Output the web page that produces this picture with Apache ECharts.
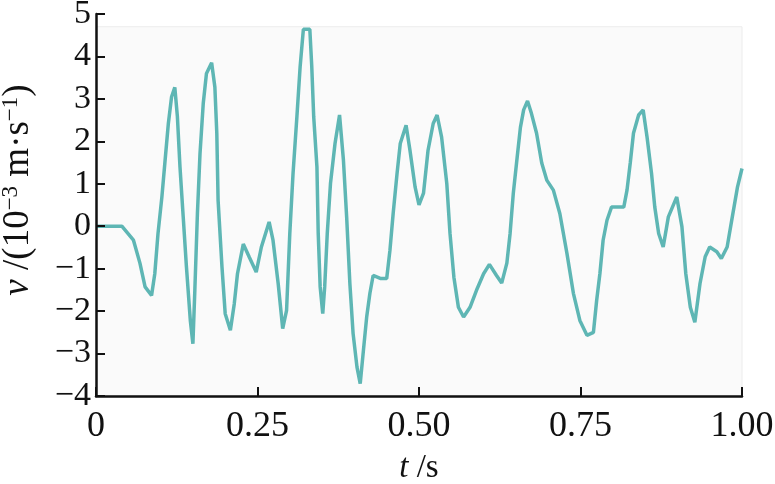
<!DOCTYPE html>
<html>
<head>
<meta charset="utf-8">
<script src="https://cdn.jsdelivr.net/npm/echarts@6/dist/echarts.min.js"></script>
<style>html,body{margin:0;padding:0;background:#fff}#c{width:775px;height:484px}</style>
</head>
<body>
<div id="c"></div>
<script>
// time (s)
const tValues = [0,0.040,0.058,0.068,0.076,0.086,0.091,0.096,0.102,0.107,0.112,0.117,0.122,0.126,0.130,0.135,0.140,0.146,0.150,0.153,0.157,0.161,0.166,0.171,0.179,0.184,0.187,0.189,0.195,0.200,0.208,0.214,0.219,0.228,0.237,0.248,0.256,0.268,0.274,0.282,0.289,0.295,0.300,0.305,0.311,0.316,0.321,0.331,0.334,0.337,0.342,0.344,0.347,0.351,0.354,0.358,0.363,0.370,0.377,0.383,0.388,0.393,0.398,0.404,0.409,0.414,0.419,0.424,0.429,0.440,0.450,0.455,0.460,0.466,0.471,0.480,0.486,0.494,0.500,0.507,0.514,0.522,0.528,0.535,0.543,0.548,0.554,0.561,0.569,0.579,0.589,0.600,0.609,0.620,0.628,0.636,0.641,0.646,0.652,0.657,0.662,0.668,0.674,0.682,0.690,0.698,0.708,0.718,0.729,0.739,0.749,0.760,0.770,0.775,0.780,0.785,0.791,0.798,0.817,0.822,0.827,0.832,0.840,0.847,0.853,0.860,0.865,0.871,0.878,0.886,0.899,0.907,0.913,0.920,0.927,0.935,0.943,0.950,0.961,0.968,0.977,0.985,0.993,1.000];
// velocity (10^-3 m/s)
const vValues = [0,0,-0.33,-0.87,-1.43,-1.63,-1.12,-0.17,0.69,1.56,2.42,3.05,3.27,2.58,1.40,0.22,-0.96,-2.22,-2.77,-1.51,0.30,1.71,2.89,3.60,3.85,3.28,2.19,0.61,-0.96,-2.06,-2.45,-1.83,-1.12,-0.42,-0.72,-1.08,-0.49,0.10,-0.33,-1.35,-2.41,-1.98,-0.17,1.24,2.58,3.76,4.64,4.64,3.76,2.58,1.40,-0.17,-1.43,-2.06,-1.43,-0.17,1.01,1.95,2.62,1.56,0.22,-1.35,-2.53,-3.32,-3.71,-2.92,-2.14,-1.58,-1.16,-1.23,-1.23,-0.57,0.30,1.24,1.95,2.38,1.79,0.92,0.50,0.78,1.79,2.42,2.62,2.10,1.01,-0.17,-1.20,-1.91,-2.14,-1.91,-1.51,-1.12,-0.90,-1.16,-1.34,-0.87,-0.17,0.78,1.63,2.33,2.74,2.95,2.66,2.19,1.49,1.08,0.85,0.30,-0.64,-1.58,-2.22,-2.57,-2.50,-1.75,-1.12,-0.33,0.14,0.45,0.45,0.85,1.49,2.19,2.62,2.74,2.10,1.24,0.45,-0.17,-0.49,0.22,0.69,-0.01,-1.12,-1.91,-2.26,-1.35,-0.72,-0.49,-0.60,-0.76,-0.49,0.22,0.92,1.36];
const xTickLabels = {0:'0',0.25:'0.25',0.5:'0.50',0.75:'0.75',1:'1.00'};

const data = tValues.map((t,i)=>[t,vValues[i]]);
const serif = '"Liberation Serif","Times New Roman",serif';
const chart = echarts.init(document.getElementById('c'), null, {renderer:'canvas'});
chart.setOption({
  backgroundColor:'#fff',
  animation:false,
  grid:{left:96,right:33,top:14,bottom:88,containLabel:false,outerBoundsMode:'none'},
  xAxis:{
    type:'value',min:0,max:1,interval:0.25,z:10,
    axisLine:{show:true,onZero:false,lineStyle:{color:'#111',width:2.5}},
    axisTick:{show:true,inside:true,length:9,lineStyle:{color:'#111',width:2}},
    splitLine:{show:false},
    axisLabel:{color:'#111',fontFamily:serif,fontSize:36,margin:13,formatter:v=>xTickLabels[v]},
    name:'{i|t} /s',nameLocation:'middle',nameGap:56,
    nameTextStyle:{color:'#111',fontFamily:serif,fontSize:33,rich:{i:{fontStyle:'italic',fontFamily:serif,fontSize:33,color:'#111'}}}
  },
  yAxis:{
    type:'value',min:-4,max:5,interval:1,z:10,
    axisLine:{show:true,onZero:false,lineStyle:{color:'#111',width:2.5}},
    axisTick:{show:true,inside:true,length:9,lineStyle:{color:'#111',width:2}},
    splitLine:{show:false},
    axisLabel:{color:'#111',fontFamily:serif,fontSize:34,margin:5,formatter:v=>String(v).replace('-','\u2212')},
    name:'{i|v} /(10{sup|\u22123} m\u00b7s{sup|\u22121})',nameLocation:'middle',nameGap:58,nameRotate:90,
    nameTextStyle:{color:'#111',fontFamily:serif,fontSize:37,padding:[0,0,0,30],
      rich:{i:{fontStyle:'italic',fontFamily:serif,fontSize:37,color:'#111'},
            sup:{fontFamily:serif,fontSize:23,color:'#111',padding:[0,0,16,0]}}}
  },
  series:[{
    type:'line',data:data,showSymbol:false,smooth:false,z:2,
    lineStyle:{color:'#5eb6b4',width:3.5},
    markArea:{silent:true,z:1,
      itemStyle:{color:'#fafafa',borderColor:'#ececec',borderWidth:1},
      data:[[{coord:[0,-4]},{coord:[1,4.7]}]]}
  }]
});
</script>
</body>
</html>
